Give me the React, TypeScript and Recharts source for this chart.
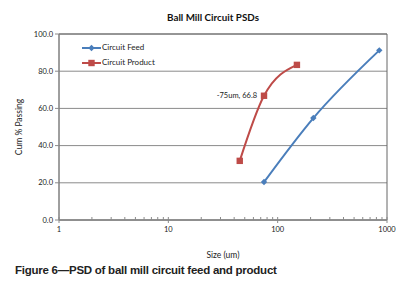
import React from "react"
import {
  LineChart, Line, XAxis, YAxis, CartesianGrid, Legend, ReferenceArea,
} from "recharts"

// particle size (um) vs cumulative % passing
const feedSize = [75, 212, 850]
const feedPassing = [20.4, 54.8, 91.2]
const productSize = [45, 75, 150]
const productPassing = [31.8, 66.8, 83.4]

const xTicks = [1, 2, 3, 4, 5, 6, 7, 8, 9, 10, 20, 30, 40, 50, 60, 70, 80, 90, 100, 200, 300, 400, 500, 600, 700, 800, 900, 1000]
const xLabels = [1, 10, 100, 1000]
const yTicks = [0, 20, 40, 60, 80, 100]

const BLUE = "#4a7ebb"
const RED = "#be4b48"
const AXIS = "#8a8a8a"
const FONT = "Lato, 'Open Sans', sans-serif"

const feedData = feedSize.map((s, i) => ({ size: s, pct: feedPassing[i] }))
const productData = productSize.map((s, i) => ({ size: s, pct: productPassing[i] }))

const Diamond = ({ cx, cy, color }: any) => (
  <path d={`M${cx},${cy - 3.2}L${cx + 3.2},${cy}L${cx},${cy + 3.2}L${cx - 3.2},${cy}Z`} fill={color} />
)
const Square = ({ cx, cy, color }: any) => (
  <rect x={cx - 3.2} y={cy - 3.2} width={6.4} height={6.4} fill={color} />
)

const XTick = ({ x, y, payload }: any) => {
  const major = xLabels.includes(payload.value)
  return (
    <g>
      <line x1={x} x2={x} y1={y - 3} y2={major ? y + 3 : y} stroke={AXIS} />
      {major && (
        <text x={x} y={y + 12} textAnchor="middle" fontSize={7.5} fill="#222" fontFamily={FONT}>
          {payload.value}
        </text>
      )}
    </g>
  )
}

const LegendBox = () => (
  <div style={{ fontFamily: FONT, fontSize: 8, color: "#222", lineHeight: "15px" }}>
    {[["Circuit Feed", BLUE, "d"], ["Circuit Product", RED, "s"]].map(([name, color, m]) => (
      <div key={name} style={{ display: "flex", alignItems: "center" }}>
        <svg width={19} height={10}>
          <line x1={0} x2={19} y1={5} y2={5} stroke={color} strokeWidth={2} />
          {m === "d" ? <Diamond cx={9.5} cy={5} color={color} /> : <Square cx={9.5} cy={5} color={color} />}
        </svg>
        <span style={{ marginLeft: 1 }}>{name}</span>
      </div>
    ))}
  </div>
)

const PointLabel = ({ x, y, index }: any) => {
  if (index !== 1) return null
  return (
    <text x={x - 7} y={y + 2.5} textAnchor="end" fontSize={7.5} fill="#222" fontFamily={FONT}>
      -75um, 66.8
    </text>
  )
}

export default function App() {
  return (
    <div style={{ position: "absolute", left: 0, top: 0, width: 397, height: 300, background: "#fff" }}>
      <div style={{
        position: "absolute", top: 11, left: 0, width: 426, textAlign: "center",
        fontFamily: FONT, fontWeight: 700, fontSize: 9.8, color: "#111",
      }}>
        Ball Mill Circuit PSDs
      </div>
      <LineChart width={397} height={300} margin={{ top: 34, right: 10, left: 0, bottom: 35 }}>
        <CartesianGrid vertical={false} stroke={AXIS} />
        <XAxis
          type="number"
          dataKey="size"
          scale="log"
          domain={[1, 1000]}
          ticks={xTicks}
          interval={0}
          allowDataOverflow
          height={45}
          tickSize={0}
          tickMargin={0}
          tickLine={false}
          tick={<XTick />}
          stroke={AXIS}
          label={({ viewBox }: any) => (
            <text x={viewBox.x + viewBox.width / 2} y={viewBox.y + 38} textAnchor="middle" fontSize={8.5} fill="#222" fontFamily={FONT}>
              Size (um)
            </text>
          )}
        />
        <YAxis
          type="number"
          domain={[0, 100]}
          ticks={yTicks}
          width={59}
          tickSize={4}
          tickFormatter={(v) => v.toFixed(1)}
          tick={{ fontSize: 7.5, fill: "#222", fontFamily: FONT }}
          stroke={AXIS}
          label={({ viewBox }: any) => (
            <text
              x={20}
              y={viewBox.y + viewBox.height / 2}
              transform={`rotate(-90 20 ${viewBox.y + viewBox.height / 2})`}
              textAnchor="middle"
              dominantBaseline="middle"
              fontSize={8.5}
              fill="#222"
              fontFamily={FONT}
            >
              Cum % Passing
            </text>
          )}
        />
        <ReferenceArea x1={1} x2={1000} y1={0} y2={100} fill="none" stroke="#666" />
        <Legend
          layout="vertical"
          verticalAlign="middle"
          align="center"
          content={<LegendBox />}
          wrapperStyle={{ left: 82, top: 40, width: "auto", height: "auto" }}
        />
        <Line
          data={feedData}
          dataKey="pct"
          name="Circuit Feed"
          type="monotone"
          stroke={BLUE}
          strokeWidth={2}
          dot={(p: any) => <Diamond key={p.index} {...p} color={BLUE} />}
          isAnimationActive={false}
        />
        <Line
          data={productData}
          dataKey="pct"
          name="Circuit Product"
          type="monotone"
          stroke={RED}
          strokeWidth={2}
          dot={(p: any) => <Square key={p.index} {...p} color={RED} />}
          label={<PointLabel />}
          isAnimationActive={false}
        />
      </LineChart>
      <div style={{
        position: "absolute", top: 264, left: 15,
        fontFamily: "'Liberation Sans', Arial, sans-serif",
        fontWeight: 700, fontSize: 11.5, letterSpacing: -0.25, color: "#222", whiteSpace: "nowrap",
      }}>
        Figure 6—PSD of ball mill circuit feed and product
      </div>
    </div>
  )
}
